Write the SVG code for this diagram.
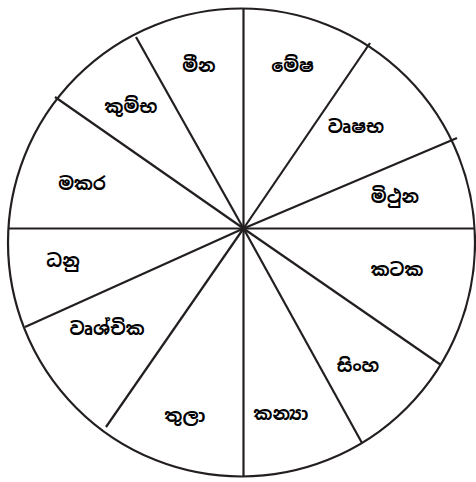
<svg xmlns="http://www.w3.org/2000/svg" width="476" height="482" viewBox="0 0 476 482">
<style>
.ln{stroke:#231f20;stroke-width:2.2;fill:none;stroke-linecap:butt}
.t{font-family:"Noto Sans Sinhala","Noto Sans",sans-serif;font-size:18px;font-weight:bold;fill:#000;text-anchor:middle}
</style>
<rect width="476" height="482" fill="#fff"/>
<g id="wheel">
<ellipse class="ln" cx="241.5" cy="242.5" rx="233.5" ry="234"/>
</g>
<g id="connectors">
<line class="ln" x1="243.5" y1="8" x2="243.5" y2="476"/>
<line class="ln" x1="8" y1="228.5" x2="475" y2="228.5"/>
<line class="ln" x1="243.5" y1="228.5" x2="370" y2="43"/>
<line class="ln" x1="243.5" y1="228.5" x2="457" y2="138"/>
<line class="ln" x1="243.5" y1="228.5" x2="441" y2="365"/>
<line class="ln" x1="243.5" y1="228.5" x2="362" y2="443"/>
<line class="ln" x1="243.5" y1="228.5" x2="106" y2="427"/>
<line class="ln" x1="243.5" y1="228.5" x2="25" y2="327"/>
<line class="ln" x1="243.5" y1="228.5" x2="55" y2="97"/>
<line class="ln" x1="243.5" y1="228.5" x2="136" y2="37"/>
</g>
<g id="mesha"><text class="t" x="292.5" y="72">මේෂ</text></g>
<g id="vrushabha"><text class="t" x="356" y="133">වෘෂභ</text></g>
<g id="mithuna"><text class="t" x="395" y="203">මිථුන</text></g>
<g id="kataka"><text class="t" x="397" y="276">කටක</text></g>
<g id="simha"><text class="t" x="358" y="372">සිංහ</text></g>
<g id="kanya"><text class="t" x="281" y="420">කන්‍යා</text></g>
<g id="tula"><text class="t" x="185" y="422">තුලා</text></g>
<g id="vrushchika"><text class="t" x="107" y="335">වෘශ්චික</text></g>
<g id="dhanu"><text class="t" x="63" y="267">ධනු</text></g>
<g id="makara"><text class="t" x="82" y="190">මකර</text></g>
<g id="kumbha"><text class="t" x="131" y="113">කුම්භ</text></g>
<g id="mina"><text class="t" x="199" y="72">මීන</text></g>
</svg>
